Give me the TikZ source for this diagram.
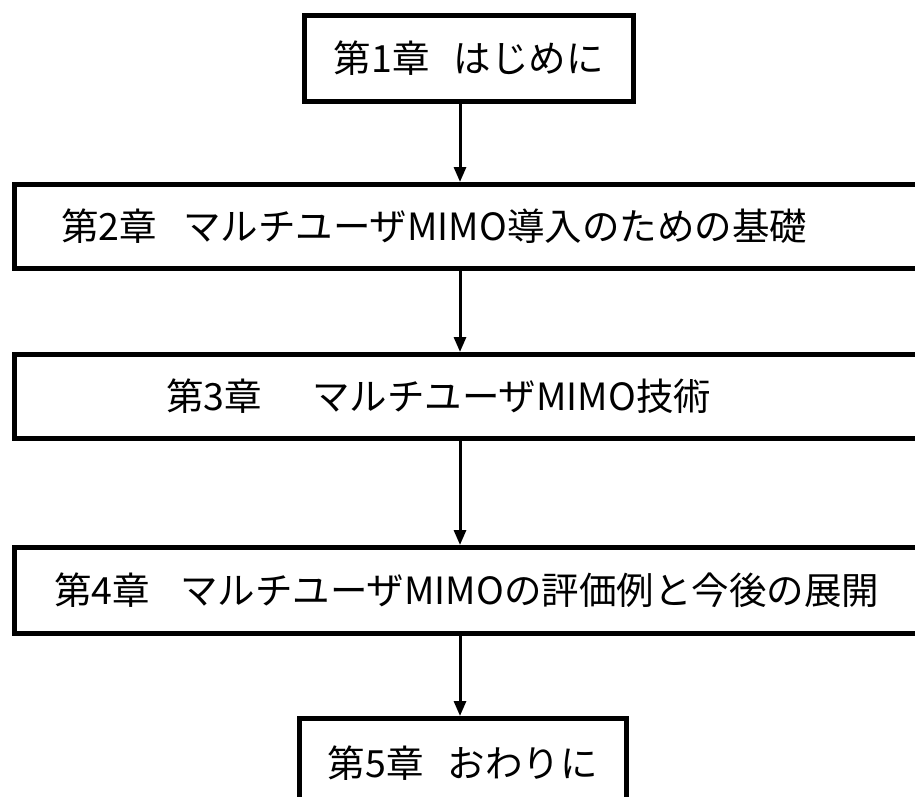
\documentclass[tikz,border=0pt]{standalone}
\usepackage{fontspec}
\setmainfont{Noto Sans CJK JP}
\usetikzlibrary{arrows.meta}
\begin{document}
\begin{tikzpicture}[x=1pt,y=-1pt,line join=miter,>={Triangle[length=15pt,width=12pt]},
  chapbox/.style={draw,line width=4.5pt,rectangle,anchor=north west,inner ysep=0pt,font=\fontsize{37.5}{40}\selectfont},
  link/.style={->,line width=3pt}]
\useasboundingbox (0,0) rectangle (915,796);
\clip (0,0) rectangle (915,796);
\coordinate (axis) at (460,0);
% chapters
\node[chapbox,inner xsep=0pt,minimum width=329pt,minimum height=86pt] (ch1) at (302,13) {第1章\hspace{24pt}はじめに};
\node[chapbox,inner xsep=47pt,text width=836pt,align=left,minimum height=84pt] (ch2) at (12,182) {第2章\hspace{26pt}マルチユーザMIMO導入のための基礎};
\node[chapbox,inner xsep=152pt,text width=626pt,align=left,minimum height=84pt] (ch3) at (12,352) {第3章\hspace{50pt}マルチユーザMIMO技術};
\node[chapbox,inner xsep=40pt,text width=850pt,align=left,minimum height=86pt] (ch4) at (12,545) {第4章\hspace{30pt}マルチユーザMIMOの評価例と今後の展開};
\node[chapbox,inner xsep=0pt,minimum width=327pt,minimum height=130pt,text depth=44pt] (ch5) at (297,716) {第5章\hspace{24pt}おわりに};
% arrows
\draw[link] (ch1.south -| axis) -- (ch2.north -| axis);
\draw[link] (ch2.south -| axis) -- (ch3.north -| axis);
\draw[link] (ch3.south -| axis) -- (ch4.north -| axis);
\draw[link] (ch4.south -| axis) -- (ch5.north -| axis);
\end{tikzpicture}
\end{document}
